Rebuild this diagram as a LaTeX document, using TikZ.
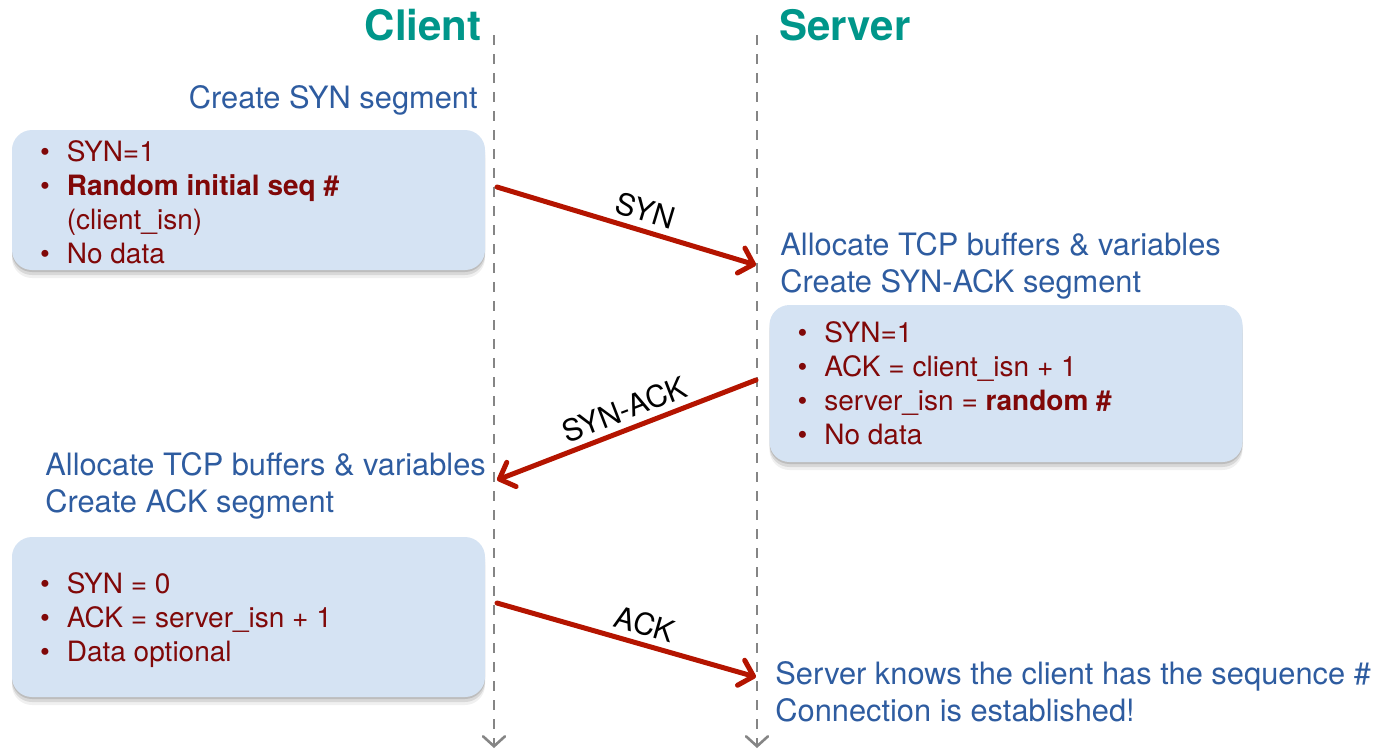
\documentclass[tikz,border=0pt]{standalone}
\usepackage{fontspec}
\setsansfont{TeX Gyre Heros}
\usetikzlibrary{arrows.meta,shadows}
\definecolor{titlecol}{RGB}{0,150,138}
\definecolor{stepcol}{RGB}{46,92,160}
\definecolor{itemcol}{RGB}{128,8,8}
\definecolor{boxcol}{RGB}{213,227,243}
\definecolor{msgcol}{RGB}{180,20,0}
\newcommand{\itemlist}[1]{\begin{tabular}{@{}l@{\hspace{8.5pt}}l@{}}#1\end{tabular}}

\begin{document}
\begin{tikzpicture}[x=0.5pt,y=-0.5pt,
  title/.style={font=\sffamily\bfseries\fontsize{21}{24}\selectfont,text=titlecol,inner sep=0pt},
  step text/.style={font=\sffamily\fontsize{15.4}{18.3}\selectfont,text=stepcol,inner sep=0pt,align=left},
  info box/.style={rounded corners=10pt,fill=boxcol,inner sep=0pt,minimum width=236.5pt,
    drop shadow={shadow xshift=0pt,shadow yshift=-1pt,opacity=0.12,fill=black},
    drop shadow={shadow xshift=0pt,shadow yshift=-2.5pt,opacity=0.1,fill=black},
    drop shadow={shadow xshift=0pt,shadow yshift=-4pt,opacity=0.06,fill=black}},
  item list/.style={font=\sffamily\fontsize{14}{17}\selectfont,text=itemcol,inner sep=0pt,anchor=west},
  life line/.style={draw=black!48,line width=1.3pt,dash pattern=on 5pt off 4.5pt,
    -{Straight Barb[length=5pt,width=11pt,line cap=round]}},
  msg/.style={draw=msgcol,line width=2.5pt,line cap=round,
    -{Straight Barb[length=6.5pt,width=13pt,line cap=round,line join=round]}},
  msg label/.style={font=\sffamily\fontsize{15}{18}\selectfont,text=black,sloped,above,inner sep=3pt}]

  \useasboundingbox (0,0) rectangle (1379,752);

  % lifelines
  \coordinate (ctop) at (494,35);
  \coordinate (cbot) at (494,748);
  \coordinate (stop) at (757,35);
  \coordinate (sbot) at (757,748);
  \draw[life line] (ctop) -- (cbot);
  \draw[life line] (stop) -- (sbot);

  \node[title,anchor=east] (client) at (482,25) {Client};
  \node[title,anchor=west] (server) at (779,25) {Server};

  % client: SYN
  \node[step text,anchor=east] (csyn) at (478,100) {Create SYN segment};
  \node[info box,minimum height=70pt] (box1) at (248.5,200) {};
  \node[item list] (list1) at ([xshift=14pt,yshift=-3pt]box1.west) {\itemlist{%
    \textbullet & SYN=1\\
    \textbullet & \textbf{Random initial seq \#}\\
                & (client\_isn)\\
    \textbullet & No data}};

  % server: SYN-ACK
  \node[step text,anchor=west] (ssynack) at (780,266) {Allocate TCP buffers \& variables\\Create SYN-ACK segment};
  \node[info box,minimum height=78.5pt] (box2) at (1006,383.5) {};
  \node[item list] (list2) at ([xshift=14pt,yshift=-1.5pt]box2.west) {\itemlist{%
    \textbullet & SYN=1\\
    \textbullet & ACK = client\_isn + 1\\
    \textbullet & server\_isn = \textbf{random \#}\\
    \textbullet & No data}};

  % client: ACK
  \node[step text,anchor=west] (cack) at (45,486) {Allocate TCP buffers \& variables\\Create ACK segment};
  \node[info box,minimum height=80pt] (box3) at (248.5,617) {};
  \node[item list] (list3) at ([xshift=14pt,yshift=-1.75pt]box3.west) {\itemlist{%
    \textbullet & SYN = 0\\
    \textbullet & ACK = server\_isn + 1\\
    \textbullet & Data optional}};

  % server: done
  \node[step text,anchor=west] (sdone) at (775,692) {Server knows the client has the sequence \#\\Connection is established!};

  % segments
  \coordinate (syn1) at (497,187);
  \coordinate (syn2) at (756,265);
  \coordinate (sa1) at (756,380);
  \coordinate (sa2) at (497,480);
  \coordinate (ack1) at (497,603);
  \coordinate (ack2) at (756,677);

  \draw[msg] (syn1) -- node[msg label,pos=0.55] {SYN} (syn2);
  \draw[msg] (sa1) -- node[msg label,pos=0.48] {SYN-ACK} (sa2);
  \draw[msg] (ack1) -- node[msg label,pos=0.55] {ACK} (ack2);
\end{tikzpicture}
\end{document}
